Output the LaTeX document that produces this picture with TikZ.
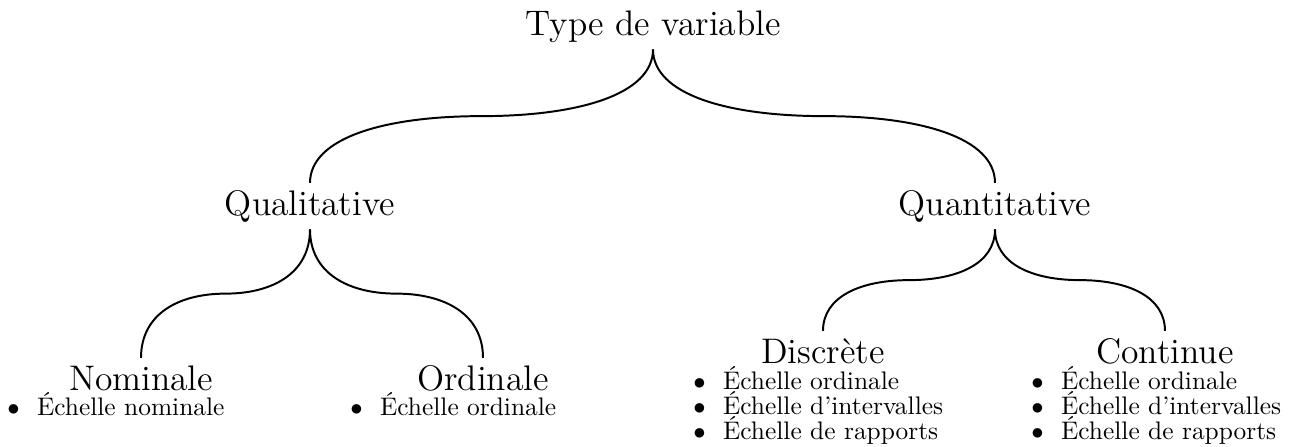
\documentclass[tikz,border=0pt]{standalone}
\usetikzlibrary{calc}
\begin{document}
\begin{tikzpicture}[x=0.4055pt,y=-0.4055pt,
  head/.style={font=\fontsize{14.4}{18}\selectfont, text height=10pt, text depth=2.8pt, inner sep=2.8pt, anchor=base},
  item/.style={font=\fontsize{10.3}{12}\selectfont, inner sep=0pt, anchor=base west},
  conn/.style={line width=0.8pt, black},
  branch/.style={to path={let \p1=(\tikztostart), \p2=(\tikztotarget) in
     .. controls (\x1,{\y1+0.34*(\y2-\y1)}) and ({\x1+0.22*(\x2-\x1)},{(\y1+\y2)/2})
     .. ({(\x1+\x2)/2},{(\y1+\y2)/2})
     .. controls ({\x2-0.22*(\x2-\x1)},{(\y1+\y2)/2}) and (\x2,{\y2-0.34*(\y2-\y1)})
     .. (\tikztotarget)}}]
\useasboundingbox (0,0) rectangle (1298,446);
\newcommand{\bul}{\makebox[12pt][l]{$\bullet$}}
% headings
\node[head] (type) at (653,35) {Type de variable};
\node[head] (qual) at (310,215) {Qualitative};
\node[head] (quant) at (995,215) {Quantitative};
\node[head] (nom) at (141,390) {Nominale};
\node[head] (ord) at (483,390) {Ordinale};
\node[head] (disc) at (823,363) {Discrète};
\node[head] (cont) at (1165,363) {Continue};
% items
\node[item] (nom1) at (7,415) {\bul Échelle nominale};
\node[item] (ord1) at (350,415) {\bul Échelle ordinale};
\node[item] (disc1) at (693,389) {\bul Échelle ordinale};
\node[item] (disc2) at (693,414) {\bul Échelle d’intervalles};
\node[item] (disc3) at (693,439) {\bul Échelle de rapports};
\node[item] (cont1) at (1031,389) {\bul Échelle ordinale};
\node[item] (cont2) at (1031,414) {\bul Échelle d’intervalles};
\node[item] (cont3) at (1031,439) {\bul Échelle de rapports};
% connectors
\draw[conn] (type.south) to[branch] (qual.north);
\draw[conn] (type.south) to[branch] (quant.north);
\draw[conn] (qual.south) to[branch] (nom.north);
\draw[conn] (qual.south) to[branch] (ord.north);
\draw[conn] (quant.south) to[branch] (disc.north);
\draw[conn] (quant.south) to[branch] (cont.north);
\end{tikzpicture}
\end{document}
